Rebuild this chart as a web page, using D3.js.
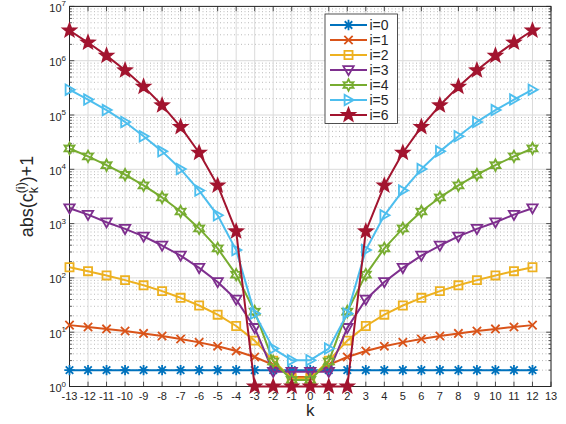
<!DOCTYPE html>
<html><head><meta charset="utf-8">
<script src="https://cdn.jsdelivr.net/npm/d3@7"></script>
<style>
body{margin:0;background:#fff}
svg{display:block}
text{font-family:"Liberation Sans",Arial,Helvetica,sans-serif;fill:#262626}
</style>
</head><body>
<svg id="c" width="566" height="424"></svg>
<script>
// ---- data ----
const ks = [-13,-12,-11,-10,-9,-8,-7,-6,-5,-4,-3,-2,-1,0,1,2,3,4,5,6,7,8,9,10,11,12];
const seriesNames = ["i=0","i=1","i=2","i=3","i=4","i=5","i=6"];
const s0 = [2,2,2,2,2,2,2,2,2,2,2,2,2,2,2,2,2,2,2,2,2,2,2,2,2,2];
const s1 = [13.5,12.5,11.5,10.5,9.5,8.5,7.5,6.5,5.5,4.5,3.5,2.5,1.5,1.5,2.5,3.5,4.5,5.5,6.5,7.5,8.5,9.5,10.5,11.5,12.5,13.5];
const s2 = [157,133,111,91,73,57,43,31,21,13,7,3,1.4,1.4,3,7,13,21,31,43,57,73,91,111,133,157];
const s3 = [1920,1460,1060,800,580,395,258,153,84,40,12,1.87,1.87,1.87,1.87,12,40,84,153,258,395,580,800,1060,1460,1920];
const s4 = [24200,17300,11900,7950,5060,3030,1670,815,350,115,24,2.9,1.32,1.32,2.9,24,115,350,815,1670,3030,5060,7950,11900,17300,24200];
const s5 = [293000,192000,123000,74500,40500,21400,10100,4050,1420,325,22,5.0,3.05,3.05,5.0,22,325,1420,4050,10100,21400,40500,74500,123000,192000,293000];
const s6 = [3600000,2160000,1240000,665000,333000,151000,60500,20200,5040,721,1,1,1,1,1,1,721,5040,20200,60500,151000,333000,665000,1240000,2160000,3600000];
const xTickValues = [-13,-12,-11,-10,-9,-8,-7,-6,-5,-4,-3,-2,-1,0,1,2,3,4,5,6,7,8,9,10,11,12,13];
const yTickExps = [0,1,2,3,4,5,6,7];
const xLabel = "k";

const allSeries = [s0,s1,s2,s3,s4,s5,s6];
const colors = ["#0072BD","#D95319","#EDB120","#7E2F8E","#77AC30","#4DBEEE","#A2142F"];
const markers = ["asterisk","x","square","v","hexagram",">","pentagram"];

// ---- layout ----
const svg = d3.select("#c");
const L = 69.5, R = 551, T = 6.4, B = 386.5;
const x = d3.scaleLinear().domain([-13,13]).range([L,R]);
const y = d3.scaleLog().domain([1,1e7]).range([B,T]);
const axisCol = "#262626";

function starPath(n, ro, ri){
  let p=[];
  for(let i=0;i<2*n;i++){
    const r = i%2===0?ro:ri;
    const a = -Math.PI/2 + i*Math.PI/n;
    p.push([r*Math.cos(a), r*Math.sin(a)]);
  }
  return "M"+p.map(d=>d[0].toFixed(2)+","+d[1].toFixed(2)).join("L")+"Z";
}
function markerPath(t){
  const r=5.2;
  switch(t){
    case "asterisk": {
      const d=0.72*r;
      return `M0,${-r}V${r}M${-r},0H${r}M${-d},${-d}L${d},${d}M${-d},${d}L${d},${-d}`;
    }
    case "x": {const d=0.8*r; return `M${-d},${-d}L${d},${d}M${-d},${d}L${d},${-d}`;}
    case "square": {const d=0.78*r; return `M${-d},${-d}H${d}V${d}H${-d}Z`;}
    case "v": return `M${-r},${-0.75*r}L${r},${-0.75*r}L0,${r}Z`;
    case ">": return `M${-0.75*r},${-r}L${-0.75*r},${r}L${r},0Z`;
    case "hexagram": return starPath(6, r*1.1, r*0.6);
    case "pentagram": return starPath(5, r*1.3, r*0.55);
  }
}

// ---- grid ----
const g = svg.append("g");
const minorVals = [];
for(let e=0;e<7;e++) for(let m=2;m<=9;m++) minorVals.push(m*Math.pow(10,e));
g.selectAll(".ming").data(minorVals).join("line")
  .attr("x1",L).attr("x2",R).attr("y1",d=>y(d)).attr("y2",d=>y(d))
  .attr("stroke","#a8a8a8").attr("stroke-width",0.8).attr("stroke-dasharray","1,2.5");
g.selectAll(".majg").data(yTickExps).join("line")
  .attr("x1",L).attr("x2",R).attr("y1",d=>y(Math.pow(10,d))).attr("y2",d=>y(Math.pow(10,d)))
  .attr("stroke","#dadada").attr("stroke-width",1);
g.selectAll(".vg").data(xTickValues).join("line")
  .attr("x1",d=>x(d)).attr("x2",d=>x(d)).attr("y1",T).attr("y2",B)
  .attr("stroke","#dadada").attr("stroke-width",1);

// ---- axes box & ticks ----
const ax = svg.append("g");
ax.append("rect").attr("x",L).attr("y",T).attr("width",R-L).attr("height",B-T)
  .attr("fill","none").attr("stroke",axisCol).attr("stroke-width",1);
ax.selectAll(".xt").data(xTickValues).join("path")
  .attr("d",d=>`M${x(d)},${B}v-4.8M${x(d)},${T}v4.8`)
  .attr("stroke",axisCol).attr("stroke-width",0.8);
ax.selectAll(".yt").data(yTickExps).join("path")
  .attr("d",d=>{const yy=y(Math.pow(10,d));return `M${L},${yy}h4.8M${R},${yy}h-4.8`;})
  .attr("stroke",axisCol).attr("stroke-width",0.8);
ax.selectAll(".ymt").data(minorVals).join("path")
  .attr("d",d=>{const yy=y(d);return `M${L},${yy}h2.6M${R},${yy}h-2.6`;})
  .attr("stroke",axisCol).attr("stroke-width",0.7);

ax.selectAll(".xl").data(xTickValues).join("text")
  .attr("x",d=>x(d)).attr("y",399.5).attr("text-anchor","middle")
  .attr("font-size",11).text(d=>String(d));
const yl = ax.selectAll(".yl").data(yTickExps).join("text")
  .attr("x",66).attr("y",d=>y(Math.pow(10,d))+5.5).attr("text-anchor","end")
  .attr("font-size",11);
yl.append("tspan").text("10");
yl.append("tspan").attr("dy",-5.5).attr("font-size",8).text(d=>String(d));

// axis labels
svg.append("text").attr("x",(L+R)/2).attr("y",416).attr("text-anchor","middle")
  .attr("font-size",17).text(xLabel);
const ylab = svg.append("text").attr("transform",`translate(33,${(T+B)/2}) rotate(-90)`)
  .attr("text-anchor","middle").attr("font-size",18);
ylab.append("tspan").text("abs(c");
ylab.append("tspan").attr("font-size",12.5).attr("dy",4.5).text("k");
ylab.append("tspan").attr("font-size",12.5).attr("dx",-6.3).attr("dy",-13).text("(i)");
ylab.append("tspan").attr("dy",8.5).text(")+1");

// ---- series ----
const line = d3.line().x((d,i)=>x(ks[i])).y(d=>y(d));
allSeries.forEach((s,si)=>{
  const sg = svg.append("g");
  sg.append("path").attr("d",line(s)).attr("fill","none")
    .attr("stroke",colors[si]).attr("stroke-width",2).attr("stroke-linejoin","round");
  sg.selectAll("path.m").data(s).join("path").attr("class","m")
    .attr("transform",(d,i)=>`translate(${x(ks[i])},${y(d)})`)
    .attr("d",markerPath(markers[si]))
    .attr("fill", markers[si]==="pentagram"?colors[si]:"none")
    .attr("stroke",colors[si]).attr("stroke-width",1.8).attr("stroke-linejoin","miter");
});

// ---- legend ----
const lg = svg.append("g");
const lx0=325, ly0=14, lw=72.5, lh=109.5;
lg.append("rect").attr("x",lx0).attr("y",ly0).attr("width",lw).attr("height",lh)
  .attr("fill","#fff").attr("stroke",axisCol).attr("stroke-width",0.8);
seriesNames.forEach((n,i)=>{
  const yy = 25 + i*15;
  lg.append("line").attr("x1",330).attr("x2",367).attr("y1",yy).attr("y2",yy)
    .attr("stroke",colors[i]).attr("stroke-width",2);
  lg.append("path").attr("transform",`translate(348.5,${yy})`).attr("d",markerPath(markers[i]))
    .attr("fill", markers[i]==="pentagram"?colors[i]:"none")
    .attr("stroke",colors[i]).attr("stroke-width",1.8);
  lg.append("text").attr("x",369.5).attr("y",yy+5).attr("font-size",14).text(n);
});
</script>
</body></html>
